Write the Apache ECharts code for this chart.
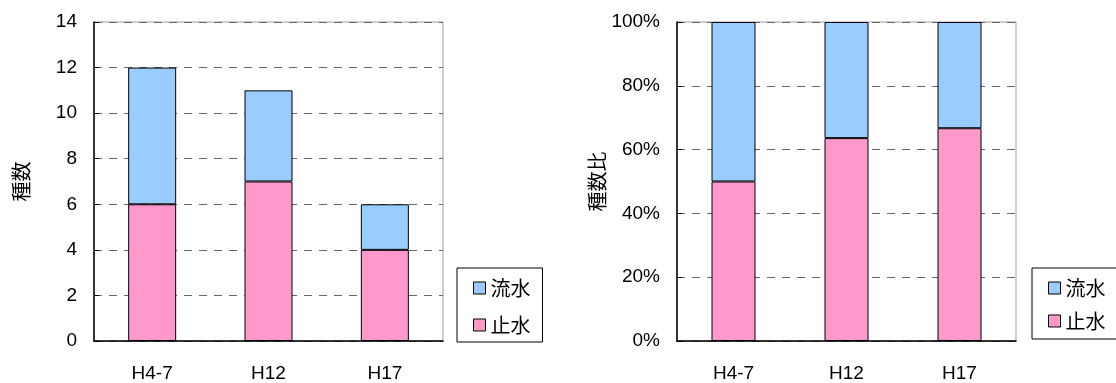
<!DOCTYPE html>
<html>
<head>
<meta charset="utf-8">
<script src="https://cdn.jsdelivr.net/npm/echarts@6/dist/echarts.min.js"></script>
<style>
html,body{margin:0;padding:0;background:#fff;}
#c{width:1116px;height:383px;}
</style>
</head>
<body>
<div id="c"></div>
<script>
const categories = ['H4-7', 'H12', 'H17'];
const stagnantCount = [6, 7, 4];      // 止水
const flowingCount = [6, 4, 2];       // 流水
const stagnantPct = [50, 63.6, 66.7]; // 止水 %
const flowingPct = [50, 36.4, 33.3];  // 流水 %
const leftTicks = { min: 0, max: 14, interval: 2 };
const rightTicks = { min: 0, max: 100, interval: 20 };

const FONT = '"Liberation Sans", "Noto Sans CJK JP", sans-serif';
const CJK = '"Noto Sans CJK JP", sans-serif';
const PINK = '#FF99CC';
const BLUE = '#99CCFF';

const chart = echarts.init(document.getElementById('c'), null, { renderer: 'canvas' });

function yAxis(idx, ticks, name, gap, fmt) {
  return {
    type: 'value', gridIndex: idx, min: ticks.min, max: ticks.max, interval: ticks.interval,
    name: name, nameLocation: 'middle', nameGap: gap, nameRotate: 90,
    nameTextStyle: { fontFamily: CJK, fontSize: 20, color: '#000' },
    axisLine: { show: true, lineStyle: { color: '#000', width: 1.5 } },
    axisTick: { show: true, inside: true, length: 5, lineStyle: { color: '#000' } },
    axisLabel: { fontFamily: FONT, fontSize: 19, color: '#000', margin: 17, formatter: fmt },
    splitLine: { show: true, lineStyle: { color: '#666', type: [8, 7], width: 1 } }
  };
}
function xAxis(idx) {
  return {
    type: 'category', gridIndex: idx, data: categories,
    axisLine: { show: true, lineStyle: { color: '#000', width: 1.5 } },
    axisTick: { show: false },
    axisLabel: { fontFamily: FONT, fontSize: 19, color: '#000', margin: 23 }
  };
}
function bar(name, xi, yi, data, color, stack, w) {
  return {
    name: name, type: 'bar', xAxisIndex: xi, yAxisIndex: yi, stack: stack, data: data,
    barWidth: w,
    itemStyle: { color: color, borderColor: '#000', borderWidth: 1 },
    emphasis: { disabled: true },
    animation: false
  };
}
function legend(left, top, gap, padding) {
  return {
    left: left, top: top, orient: 'vertical',
    data: ['流水', '止水'],
    icon: 'rect', itemWidth: 12, itemHeight: 12, itemGap: gap,
    itemStyle: { borderColor: '#000', borderWidth: 1 },
    padding: padding,
    borderColor: '#000', borderWidth: 1,
    textStyle: { fontFamily: CJK, fontSize: 20, color: '#000' }
  };
}

chart.setOption({
  backgroundColor: '#fff',
  animation: false,
  grid: [
    { left: 94, right: 673, top: 22, bottom: 42, show: true, borderColor: '#a0a0a0', borderWidth: 1, backgroundColor: 'transparent' },
    { left: 677, right: 100, top: 22, bottom: 42, show: true, borderColor: '#a0a0a0', borderWidth: 1, backgroundColor: 'transparent' }
  ],
  legend: [
    legend(457, 268, 17, [10, 12, 7, 16]),
    legend(1032, 268, 13, [10, 12, 8, 16])
  ],
  xAxis: [xAxis(0), xAxis(1)],
  yAxis: [
    yAxis(0, leftTicks, '種数', 63, '{value}'),
    yAxis(1, rightTicks, '種数比', 69, '{value}%')
  ],
  series: [
    bar('止水', 0, 0, stagnantCount, PINK, 'a', 48),
    bar('流水', 0, 0, flowingCount, BLUE, 'a', 48),
    bar('止水', 1, 1, stagnantPct, PINK, 'b', 44),
    bar('流水', 1, 1, flowingPct, BLUE, 'b', 44)
  ]
});
</script>
</body>
</html>
